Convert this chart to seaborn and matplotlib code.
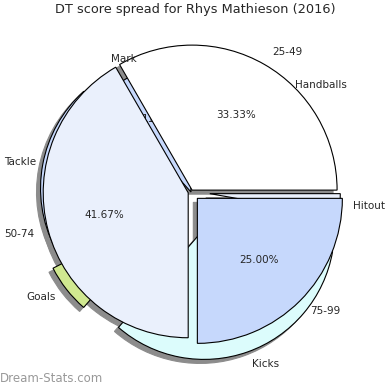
import matplotlib
matplotlib.use("Agg")
import matplotlib.pyplot as plt
import matplotlib.patches as mpatches
import seaborn as sns

# DT points by stat (outer pie)
stat_labels = ['Handballs', 'Mark', 'Tackle', 'Goals', 'Kicks', 'Hitout']
stat_points = [46, 20, 37.5, 11, 60.5, 5]
stat_colors = ['#ffffff', '#c6d8fc', '#c6d8fc', '#d0e890', '#dcfcfc', '#eaf0fc']
stat_explode = [0.04, 0, 0.14, 0.19, 0.27, 0.13]

# games per score bracket (inner pie)
bin_labels = ['25-49', '50-74', '75-99']
bin_games = [4, 5, 3]
bin_colors = ['#ffffff', '#eaf0fc', '#c6d8fc']
bin_explode = [0.015, 0.02, 0.062]

sns.set_style('white')
plt.rcParams['font.family'] = ['DejaVu Sans']

fig = plt.figure(figsize=(3.9, 3.9), dpi=100)
ax = fig.add_axes([0, 0, 1, 1])


def small_pct(p):
    # tiny slices get no percentage
    return '%.2f%%' % p if p > 4 else ''


_, stat_texts, stat_pcts = ax.pie(
    stat_points, labels=stat_labels, colors=stat_colors, explode=stat_explode,
    radius=0.9, autopct=small_pct, shadow=True, startangle=0,
    wedgeprops=dict(edgecolor='black', linewidth=0.8, zorder=1),
    textprops=dict(fontsize=7.5))
for t in stat_texts:
    t.set_zorder(3)
for t in stat_pcts:
    t.set_zorder(1.5)
# pull the Tackle label in a little so it stays inside the figure
tx, ty = stat_texts[2].get_position()
stat_texts[2].set_position((tx + 0.045, ty))

ax.pie(bin_games, labels=bin_labels, colors=bin_colors, explode=bin_explode,
       radius=1, autopct='%.2f%%', shadow=True, startangle=0,
       wedgeprops=dict(edgecolor='black', linewidth=0.8, zorder=2),
       textprops=dict(fontsize=7.5, zorder=3))

# keep shadows under every wedge
for p in ax.patches:
    if isinstance(p, mpatches.Shadow):
        p.set_zorder(0.5)
        p.set_alpha(1)
        p.set_facecolor('#8c8c8c')
        p.set_edgecolor('#8c8c8c')

ax.set_xlim(-191 / 145, 199 / 145)
ax.set_ylim(-198 / 145, 192 / 145)
ax.set_aspect('auto')
ax.axis('off')

fig.text(0.5, 0.975, 'DT score spread for Rhys Mathieson (2016)', ha='center', va='center', fontsize=9.3)
fig.text(0.0, 0.03, 'Dream-Stats.com', ha='left', va='center', fontsize=8.5, color='#999999')

fig.savefig('out.png', dpi=100)
